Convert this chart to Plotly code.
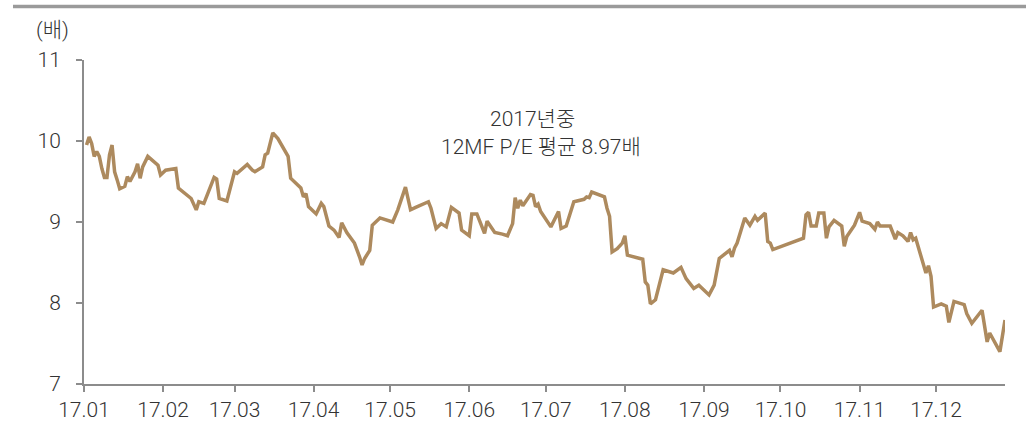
import pandas as pd
import plotly.graph_objects as go

# Day of year 2017 (0 = Jan 1) of each trading-day vertex, and 12MF P/E (배)
day_of_year = [
    1, 2, 3, 4, 5, 6, 7, 8, 9, 10, 11, 12, 13, 14, 16, 17, 18, 20, 21, 22, 23, 25,
    29, 30, 32, 36, 37, 39, 42, 44, 45, 47, 49, 51, 52, 53, 56, 59, 60, 64, 66, 67,
    70, 71, 72, 74, 76, 79, 80, 81, 85, 86, 87, 88, 91, 93, 94, 96, 98, 100, 101,
    103, 105, 106, 108, 109, 110, 112, 113, 116, 121, 123, 126, 128, 130, 135, 136,
    138, 140, 142, 144, 147, 148, 149, 151, 152, 154, 155, 157, 158, 161, 164, 166,
    168, 169, 170, 171, 172, 174, 175, 176, 177, 178, 179, 183, 186, 187, 189, 192,
    193, 196, 197, 198, 199, 201, 204, 205, 206, 207, 209, 211, 212, 213, 215, 219,
    220, 221, 222, 224, 227, 231, 234, 236, 239, 241, 245, 247, 249, 253, 254, 255,
    256, 259, 261, 263, 264, 267, 268, 269, 270, 282, 283, 284, 285, 287, 288, 290,
    291, 292, 294, 297, 298, 299, 302, 304, 305, 308, 310, 311, 312, 316, 318, 319,
    321, 323, 324, 325, 326, 329, 330, 331, 332, 333, 336, 338, 339, 341, 345, 346,
    348, 352, 354, 355, 359, 361,
]
pe_ratio = [
    9.95, 10.05, 9.97, 9.81, 9.87, 9.81, 9.66, 9.55, 9.55, 9.83, 9.95, 9.62, 9.52,
    9.41, 9.44, 9.56, 9.50, 9.62, 9.72, 9.54, 9.68, 9.81,
    9.70, 9.58, 9.64, 9.66, 9.42, 9.37, 9.29, 9.15, 9.25, 9.23, 9.40, 9.55, 9.53,
    9.29, 9.26, 9.62, 9.60, 9.71, 9.64, 9.62,
    9.68, 9.83, 9.85, 10.10, 10.03, 9.85, 9.81, 9.54, 9.42, 9.31, 9.35, 9.19, 9.10,
    9.23, 9.19, 8.95, 8.90, 8.81, 8.99,
    8.87, 8.78, 8.74, 8.57, 8.47, 8.55, 8.65, 8.96, 9.05, 9.00, 9.15, 9.43, 9.15,
    9.18, 9.25, 9.17,
    8.92, 8.98, 8.94, 9.18, 9.11, 8.90, 8.88, 8.83, 9.10, 9.10, 9.02, 8.86, 9.01,
    8.87, 8.85, 8.83,
    8.98, 9.30, 9.17, 9.27, 9.20, 9.29, 9.34, 9.33, 9.19, 9.22, 9.13, 8.94, 9.13,
    8.92, 8.95, 9.25,
    9.26, 9.28, 9.31, 9.30, 9.37, 9.35, 9.31, 9.17, 9.07, 8.63, 8.67, 8.74, 8.83,
    8.59, 8.57, 8.54,
    8.26, 8.22, 7.99, 8.04, 8.41, 8.37, 8.44, 8.30, 8.18, 8.22, 8.10, 8.22, 8.55,
    8.65, 8.57, 8.68,
    8.74, 9.05, 8.96, 9.07, 9.02, 9.11, 8.76, 8.74, 8.66, 8.80, 9.09, 9.12, 8.95,
    8.95, 9.11, 9.11,
    8.80, 8.94, 9.02, 8.95, 8.70, 8.82, 8.96, 9.12, 9.01, 8.98, 8.91, 9.00, 8.95,
    8.95, 8.79, 8.87,
    8.83, 8.76, 8.87, 8.78, 8.80, 8.47, 8.37, 8.46, 8.33, 7.95, 7.99, 7.96, 7.76,
    8.02, 7.98, 7.87,
    7.75, 7.91, 7.52, 7.63, 7.40, 7.79,
]

y_ticks = [7, 8, 9, 10, 11]
annotation_lines = ["2017년중", "12MF P/E 평균 8.97배"]
unit_label = "(배)"

dates = pd.Timestamp("2017-01-01") + pd.to_timedelta(day_of_year, unit="D")

FONT = "Roboto, 'Noto Sans CJK KR', sans-serif"
LINE_COLOR = "#AD8A5E"
AXIS_COLOR = "#8C8C8C"
TEXT_COLOR = "#333333"

fig = go.Figure()
fig.add_trace(go.Scatter(
    x=dates, y=pe_ratio, mode="lines",
    line=dict(color=LINE_COLOR, width=3.5),
    hoverinfo="x+y", showlegend=False,
))

tick_font = dict(family=FONT, size=21, color=TEXT_COLOR, weight=300)

fig.update_layout(
    width=1026, height=423,
    margin=dict(l=84, r=21, t=60, b=39, autoexpand=False),
    paper_bgcolor="white", plot_bgcolor="white",
    font=dict(family=FONT, size=21, color=TEXT_COLOR, weight=300),
    showlegend=False,
)
fig.update_xaxes(
    type="date",
    range=["2017-01-01", "2017-12-28"],
    tick0="2017-01-01", dtick="M1", tickformat="%y.%m",
    showgrid=False, zeroline=False, automargin=False,
    showline=True, linecolor=AXIS_COLOR, linewidth=2,
    ticks="outside", ticklen=6, tickwidth=2, tickcolor=AXIS_COLOR,
    tickfont=tick_font,
)
fig.update_yaxes(
    range=[7, 11], tickvals=y_ticks,
    showgrid=False, zeroline=False, automargin=False,
    showline=True, linecolor=AXIS_COLOR, linewidth=2,
    ticks="outside", ticklen=6, tickwidth=2, tickcolor=AXIS_COLOR,
    ticklabelstandoff=11,
    tickfont=tick_font,
)

ann_font = dict(family=FONT, size=21, color=TEXT_COLOR, weight=300)
fig.add_annotation(
    x=0.4875, y=0.818, xref="paper", yref="paper",
    xanchor="center", yanchor="middle",
    text=annotation_lines[0], showarrow=False, font=ann_font,
)
fig.add_annotation(
    x=0.496, y=0.7315, xref="paper", yref="paper",
    xanchor="center", yanchor="middle",
    text=annotation_lines[1], showarrow=False, font=ann_font,
)
fig.add_annotation(
    x=-0.0342, y=1.0926, xref="paper", yref="paper",
    xanchor="center", yanchor="middle",
    text=unit_label, showarrow=False, font=ann_font,
)
fig.add_shape(
    type="line", xref="paper", yref="paper",
    x0=-0.0771, x1=1.0228, y0=1.165, y1=1.165,
    line=dict(color="#9A9A9A", width=3.5),
)

fig.write_html(
    "out.html",
    config={"displayModeBar": False},
    post_script="document.body.style.margin='0';document.body.style.padding='0';",
)
